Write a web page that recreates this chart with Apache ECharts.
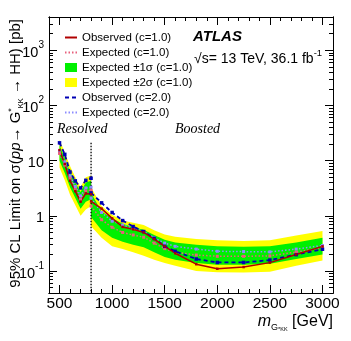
<!DOCTYPE html>
<html>
<head>
<meta charset="utf-8">
<script src="https://cdn.jsdelivr.net/npm/echarts@6/dist/echarts.min.js"></script>
<style>
  html, body { margin: 0; padding: 0; background: #fff; }
  #chart { width: 351px; height: 341px; }
</style>
</head>
<body>
<div id="chart"></div>
<script>
(function () {
  "use strict";

  // Mass points (GeV) for the two analysis regimes.
  var resolvedMass = [500, 550, 600, 650, 700, 750, 800];
  var boostedMass = [800, 900, 1000, 1100, 1200, 1300, 1400, 1500, 1600, 1800, 2000, 2250, 2500, 2750, 3000];

  // Resolved limits [pb].
  var resObs1 = [15.5, 8.7, 4.3, 2.8, 1.8, 2.55, 2.45];
  var resExp1 = [13.5, 8.3, 4.8, 3.0, 2.0, 2.8, 2.9];
  var resObs2 = [21, 13, 6.2, 4.3, 3.2, 4.4, 4.8];
  var resExp2 = [15, 9.5, 5.3, 3.4, 2.3, 3.2, 3.3];
  var resPlus1 = [19, 11, 6.3, 4.0, 2.7, 4.0, 4.3];
  var resMinus1 = [10, 6, 3.3, 2.1, 1.35, 1.8, 2.0];
  var resPlus2 = [24, 14, 8, 5, 3.3, 5.0, 5.4];
  var resMinus2 = [7.5, 4.4, 2.4, 1.55, 1.0, 1.3, 1.5];

  // Boosted limits [pb].
  var booObs1 = [1.82, 1.35, 0.9, 0.63, 0.57, 0.5, 0.38, 0.28, 0.21, 0.133, 0.11, 0.118, 0.142, 0.2, 0.28];
  var booExp1 = [1.5, 0.85, 0.62, 0.5, 0.45, 0.41, 0.32, 0.255, 0.22, 0.195, 0.185, 0.185, 0.188, 0.22, 0.265];
  var booObs2 = [2.6, 1.72, 1.15, 0.82, 0.64, 0.52, 0.39, 0.28, 0.228, 0.165, 0.143, 0.143, 0.158, 0.198, 0.248];
  var booExp2 = [2.1, 1.15, 0.8, 0.68, 0.6, 0.52, 0.4, 0.32, 0.28, 0.25, 0.228, 0.225, 0.222, 0.25, 0.29];
  var booPlus1 = [2.6, 1.2, 0.9, 0.72, 0.62, 0.56, 0.45, 0.37, 0.33, 0.3, 0.28, 0.275, 0.28, 0.33, 0.4];
  var booMinus1 = [0.95, 0.55, 0.4, 0.34, 0.3, 0.27, 0.22, 0.18, 0.16, 0.14, 0.13, 0.13, 0.135, 0.165, 0.2];
  var booPlus2 = [3.3, 1.5, 1.05, 0.82, 0.75, 0.68, 0.55, 0.46, 0.42, 0.38, 0.36, 0.35, 0.36, 0.44, 0.53];
  var booMinus2 = [0.65, 0.4, 0.28, 0.25, 0.22, 0.19, 0.16, 0.14, 0.125, 0.1, 0.095, 0.094, 0.097, 0.125, 0.155];

  // Resolved/boosted boundary marker.
  var splitMass = 800;
  var splitTop = 21;

  // Axis ranges and ticks.
  var xMin = 400, xMax = 3100;
  var yMin = 0.04, yMax = 4000;
  var xMajorTicks = [500, 1000, 1500, 2000, 2500, 3000];
  var yMajorTicks = [0.1, 1, 10, 100, 1000];
  var yTickLabels = [["10", "-1"], ["1", ""], ["10", ""], ["10", "2"], ["10", "3"]];

  var FONT = "'Liberation Sans', Arial, Helvetica, sans-serif";
  var SERIF = "'Liberation Serif', 'Times New Roman', serif";

  var xMinorTicks = [];
  for (var m = xMin; m <= xMax; m += 100) xMinorTicks.push(m);
  var yMinorTicks = [];
  for (var d = -2; d <= 3; d++) {
    for (var k = 2; k <= 9; k++) {
      var v = Number((k * Math.pow(10, d)).toPrecision(3));
      if (v > yMin && v < yMax) yMinorTicks.push(v);
    }
  }

  function xAxis(position, ticks, len, withLabels) {
    return {
      type: "value", position: position, min: xMin, max: xMax,
      axisLine: { show: true, onZero: false, lineStyle: { color: "#000", width: 1 } },
      axisTick: { show: true, inside: true, length: len, customValues: ticks,
                  lineStyle: { color: "#000", width: 1 } },
      axisLabel: withLabels
        ? { show: true, customValues: ticks, margin: 3, color: "#000",
            fontSize: 15.5, fontFamily: FONT,
            formatter: function (val) { return String(val); } }
        : { show: false },
      splitLine: { show: false }
    };
  }

  function yAxis(position, ticks, len, withLabels) {
    return {
      type: "log", logBase: 10, position: position, min: yMin, max: yMax,
      axisLine: { show: true, onZero: false, lineStyle: { color: "#000", width: 1 } },
      axisTick: { show: true, inside: true, length: len, customValues: ticks,
                  lineStyle: { color: "#000", width: 1 } },
      axisLabel: withLabels ? {
        show: true, customValues: ticks, margin: 5, color: "#000",
        formatter: function (val) {
          var i = -1;
          for (var j = 0; j < yMajorTicks.length; j++) {
            if (Math.abs(yMajorTicks[j] - val) / yMajorTicks[j] < 1e-6) i = j;
          }
          if (i < 0) return "";
          var lab = yTickLabels[i];
          return "{b|" + lab[0] + "}" + (lab[1] ? "{s|" + lab[1] + "}" : "");
        },
        rich: {
          b: { fontSize: 14.5, lineHeight: 20, verticalAlign: "bottom", fontFamily: FONT, color: "#000" },
          s: { fontSize: 10, lineHeight: 10, verticalAlign: "top", fontFamily: FONT, color: "#000" }
        }
      } : { show: false },
      splitLine: { show: false }
    };
  }

  function pairs(xs, ys) {
    return xs.map(function (x, i) { return [x, ys[i]]; });
  }

  function lineSeries(name, xs, ys, color, type, width, size) {
    return {
      name: name, type: "line", z: 5,
      data: pairs(xs, ys),
      symbol: "rect", symbolSize: size, showSymbol: true,
      lineStyle: { color: color, width: width, type: type },
      itemStyle: { color: color },
      emphasis: { disabled: true }
    };
  }

  // Filled band between lo and hi, drawn as one polygon via the axes' coord().
  function bandSeries(name, xs, lo, hi, color, z) {
    return {
      name: name, type: "custom", z: z, silent: true,
      data: xs.map(function (x, i) { return [x, lo[i], hi[i]]; }),
      encode: { x: 0, y: [1, 2] },
      itemStyle: { color: color },
      renderItem: function (params, api) {
        if (params.dataIndexInside !== 0) return;
        var top = [], bot = [];
        for (var i = 0; i < xs.length; i++) {
          top.push(api.coord([xs[i], hi[i]]));
          bot.unshift(api.coord([xs[i], lo[i]]));
        }
        return { type: "polygon", shape: { points: top.concat(bot) }, style: { fill: color } };
      }
    };
  }

  var RED = "#b00000", PINK = "#e8607c", BLUE = "#0000b4", LAV = "#8c8cff";
  var GREEN = "#00f000", YELLOW = "#ffff00";

  var N_OBS1 = "Observed (c=1.0)", N_EXP1 = "Expected (c=1.0)";
  var N_1S = "Expected \u00b11\u03c3 (c=1.0)", N_2S = "Expected \u00b12\u03c3 (c=1.0)";
  var N_OBS2 = "Observed (c=2.0)", N_EXP2 = "Expected (c=2.0)";

  var series = [
    bandSeries(N_2S, resolvedMass, resMinus2, resPlus2, YELLOW, 1),
    bandSeries(N_2S, boostedMass, booMinus2, booPlus2, YELLOW, 1),
    bandSeries(N_1S, resolvedMass, resMinus1, resPlus1, GREEN, 2),
    bandSeries(N_1S, boostedMass, booMinus1, booPlus1, GREEN, 2),
    lineSeries(N_EXP2, resolvedMass, resExp2, LAV, [1.5, 2], 1.5, 3),
    lineSeries(N_EXP2, boostedMass, booExp2, LAV, [1.5, 2], 1.5, 3),
    lineSeries(N_EXP1, resolvedMass, resExp1, PINK, [1.5, 2], 1.5, 3),
    lineSeries(N_EXP1, boostedMass, booExp1, PINK, [1.5, 2], 1.5, 3),
    lineSeries(N_OBS2, resolvedMass, resObs2, BLUE, [4, 3], 1.8, 3.5),
    lineSeries(N_OBS2, boostedMass, booObs2, BLUE, [4, 3], 1.8, 3.5),
    lineSeries(N_OBS1, resolvedMass, resObs1, RED, "solid", 1.5, 2.5),
    lineSeries(N_OBS1, boostedMass, booObs1, RED, "solid", 1.5, 2.5),
    {
      name: "boundary", type: "line", z: 4, silent: true,
      data: [[splitMass, splitTop], [splitMass, yMin]],
      symbol: "none",
      lineStyle: { color: "#000", width: 1.3, type: [1.5, 1.5] }
    }
  ];

  var lineItem = function (name) { return { name: name, itemStyle: { opacity: 0 } }; };

  var chart = echarts.init(document.getElementById("chart"), null, { renderer: "canvas" });
  chart.setOption({
    animation: false,
    backgroundColor: "#fff",
    textStyle: { fontFamily: FONT },
    grid: { left: 49, right: 18, top: 17, bottom: 48, containLabel: false },
    xAxis: [
      xAxis("bottom", xMajorTicks, 8, true),
      xAxis("bottom", xMinorTicks, 4, false),
      xAxis("top", xMajorTicks, 8, false),
      xAxis("top", xMinorTicks, 4, false)
    ],
    yAxis: [
      yAxis("left", yMajorTicks, 8, true),
      yAxis("left", yMinorTicks, 4, false),
      yAxis("right", yMajorTicks, 8, false),
      yAxis("right", yMinorTicks, 4, false)
    ],
    legend: {
      orient: "vertical", left: 64, top: 31, padding: 0,
      itemWidth: 12, itemHeight: 9, itemGap: 2,
      selectedMode: false,
      textStyle: { fontSize: 11.5, lineHeight: 13, color: "#000", fontFamily: FONT },
      data: [
        lineItem(N_OBS1),
        lineItem(N_EXP1),
        { name: N_1S, icon: "rect", itemStyle: { color: GREEN } },
        { name: N_2S, icon: "rect", itemStyle: { color: YELLOW } },
        lineItem(N_OBS2),
        lineItem(N_EXP2)
      ]
    },
    graphic: [
      {
        type: "text", x: 16, y: 19, rotation: Math.PI / 2, silent: true,
        style: {
          text: "{n|95% CL Limit on \u03c3(}{i|pp}{n|\u2192 G}{p|*}{q|KK}{n| \u2192 HH) [pb]}",
          align: "right", verticalAlign: "middle",
          rich: {
            n: { fontSize: 15, lineHeight: 18, fontFamily: FONT, fill: "#000" },
            i: { fontSize: 15, lineHeight: 18, fontStyle: "italic", fontFamily: FONT, fill: "#000" },
            p: { fontSize: 9, lineHeight: 9, verticalAlign: "top", fontFamily: FONT, fill: "#000" },
            q: { fontSize: 7.5, lineHeight: 8, verticalAlign: "bottom", fontFamily: FONT, fill: "#000" }
          }
        }
      },
      {
        type: "text", x: 333, y: 322, silent: true,
        style: {
          text: "{m|m}{g|G}{p|*}{q|KK}{n| [GeV]}",
          align: "right", verticalAlign: "middle",
          rich: {
            m: { fontSize: 16, lineHeight: 20, fontStyle: "italic", fontFamily: FONT, fill: "#000" },
            g: { fontSize: 9, lineHeight: 13, verticalAlign: "bottom", fontFamily: FONT, fill: "#000" },
            p: { fontSize: 6, lineHeight: 12, verticalAlign: "bottom", fontFamily: FONT, fill: "#000" },
            q: { fontSize: 5.5, lineHeight: 7, verticalAlign: "bottom", fontFamily: FONT, fill: "#000" },
            n: { fontSize: 16, lineHeight: 20, fontFamily: FONT, fill: "#000" }
          }
        }
      },
      {
        type: "text", x: 193, y: 37, silent: true,
        style: { text: "ATLAS", fontSize: 15, fontWeight: "bold", fontStyle: "italic",
                 fontFamily: FONT, fill: "#000", verticalAlign: "middle" }
      },
      {
        type: "text", x: 194, y: 57, silent: true,
        style: {
          text: "{n|\u221as= 13 TeV, 36.1 fb}{s|-1}",
          verticalAlign: "middle",
          rich: {
            n: { fontSize: 14, lineHeight: 18, verticalAlign: "bottom", fontFamily: FONT, fill: "#000" },
            s: { fontSize: 9.5, lineHeight: 10, verticalAlign: "top", fontFamily: FONT, fill: "#000" }
          }
        }
      },
      {
        type: "text", x: 57, y: 129, silent: true,
        style: { text: "Resolved", fontSize: 14, fontStyle: "italic", fontFamily: SERIF,
                 fill: "#000", verticalAlign: "middle" }
      },
      {
        type: "text", x: 175, y: 129, silent: true,
        style: { text: "Boosted", fontSize: 14, fontStyle: "italic", fontFamily: SERIF,
                 fill: "#000", verticalAlign: "middle" }
      }
    ],
    series: series
  });
})();
</script>
</body>
</html>
